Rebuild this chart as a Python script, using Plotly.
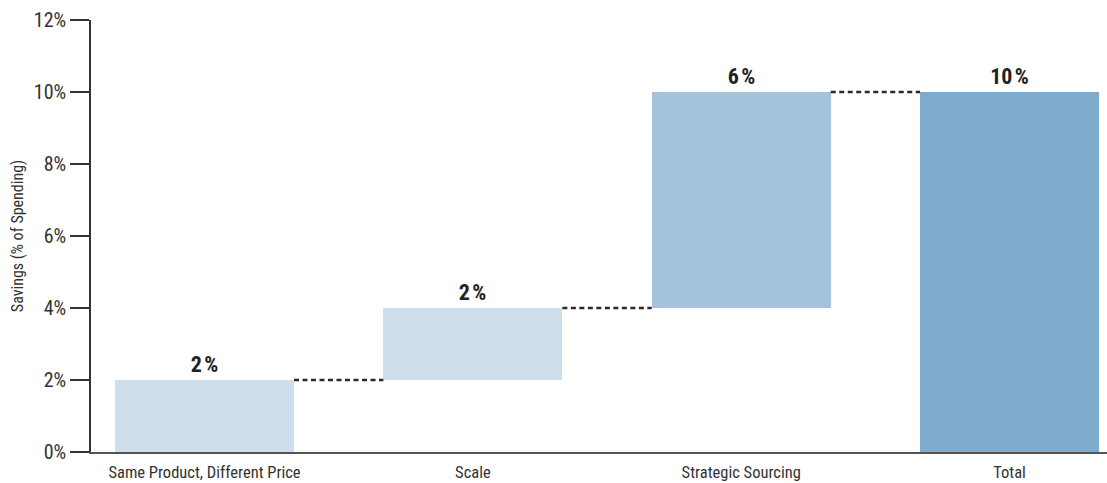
import plotly.graph_objects as go

# Savings breakdown (percent of spending)
categories = ["Same Product, Different Price", "Scale", "Strategic Sourcing", "Total"]
increments = [2, 2, 6]
total_value = 10
bar_colors = ["#cfdeec", "#cfdeec", "#a4c2dc", "#7fabcf"]
y_ticks = [0, 2, 4, 6, 8, 10, 12]
y_tick_labels = [f"{v}%" for v in y_ticks]

# Bases for the floating steps, then the total bar from zero
bases = []
running = 0
for inc in increments:
    bases.append(running)
    running += inc
bases.append(0)
heights = increments + [total_value]
tops = [b + h for b, h in zip(bases, heights)]

FONT = "Liberation Sans Narrow, Roboto Condensed, DejaVu Sans Condensed, Arial Narrow, sans-serif"
x_pos = list(range(len(categories)))
bar_width = 0.667

fig = go.Figure()
fig.add_trace(go.Bar(
    x=x_pos,
    y=heights,
    base=bases,
    width=bar_width,
    marker=dict(color=bar_colors, line=dict(width=0)),
    text=[f"<b>{h}\u200a%</b>" for h in heights],
    textposition="outside",
    textfont=dict(family=FONT, size=22, color="#222222"),
    cliponaxis=False,
    hoverinfo="skip",
    showlegend=False,
))

# Dashed connectors between consecutive bars at each running level
for i in range(len(categories) - 1):
    fig.add_trace(go.Scatter(
        x=[x_pos[i] + bar_width / 2, x_pos[i + 1] - bar_width / 2],
        y=[tops[i], tops[i]],
        mode="lines",
        line=dict(color="#2a2a2a", width=2.5, dash="5px,3.5px"),
        hoverinfo="skip",
        showlegend=False,
    ))

fig.update_layout(
    width=1107,
    height=483,
    margin=dict(l=91, r=0, t=20, b=31),
    paper_bgcolor="white",
    plot_bgcolor="white",
    font=dict(family=FONT, color="#333333", size=16),
    bargap=0,
)
fig.update_xaxes(
    range=[-0.423, 3.363],
    tickvals=x_pos,
    ticktext=categories,
    showgrid=False,
    zeroline=False,
    showline=True,
    linecolor="#555555",
    linewidth=2,
    ticks="",
    ticklabelstandoff=4,
    tickfont=dict(family=FONT, size=16.5, color="#333333"),
)
fig.update_yaxes(
    range=[0, 12],
    tickvals=y_ticks,
    ticktext=y_tick_labels,
    showgrid=False,
    zeroline=False,
    showline=True,
    linecolor="#333333",
    linewidth=1.5,
    ticks="outside",
    ticklen=19,
    tickcolor="#333333",
    tickwidth=1.5,
    tickfont=dict(family=FONT, size=20, color="#333333"),
    title=dict(text="Savings (% of Spending)", font=dict(family=FONT, size=16, color="#333333"), standoff=6),
)

fig.write_html("out.html")
